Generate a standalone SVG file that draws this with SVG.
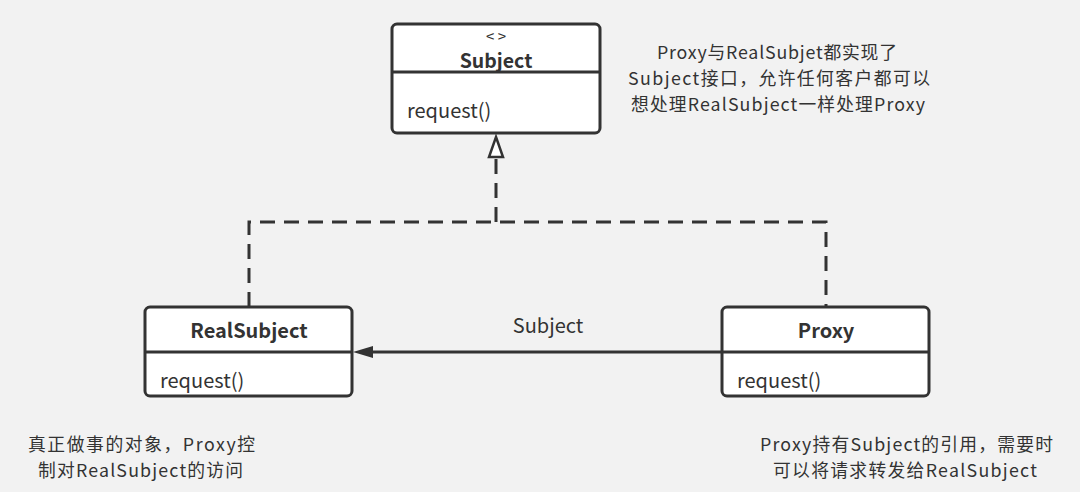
<svg xmlns="http://www.w3.org/2000/svg" width="1080" height="492" viewBox="0 0 1080 492">
<style>
.bg{fill:#f2f2f2}
.box{fill:#ffffff;stroke:#333333;stroke-width:3}
.div{stroke:#333333;stroke-width:3}
.t{font-family:"Noto Sans CJK SC","Noto Sans",sans-serif;font-size:20px;fill:#333333}
.n{font-size:17.8px}
.b{font-weight:bold;text-anchor:middle}
.c{text-anchor:middle}
.dash{fill:none;stroke:#333333;stroke-width:3;stroke-dasharray:15 9}
.solid{fill:none;stroke:#333333;stroke-width:3}
.hollow{fill:#ffffff;stroke:#333333;stroke-width:2.5}
</style>
<rect class="bg" x="0" y="0" width="1080" height="492"/>
<g id="connectors">
<path class="dash" d="M249,307 L249,222 L826,222 L826,307"/>
<path class="dash" d="M496,222 L496,158"/>
<path class="hollow" d="M496,137 L503,157 L489,157 Z"/>
<path class="solid" d="M722,352 L372,352"/>
<path d="M353,352 L373,346 L373,358 Z" fill="#333333"/>
<text class="t c" x="548" y="333">Subject</text>
</g>
<g id="subject">
<rect class="box" x="392" y="24" width="208" height="109" rx="5"/>
<line class="div" x1="392" y1="72" x2="600" y2="72"/>
<text class="t c" x="496" y="42" style="font-size:15px">&lt; &gt;</text>
<text class="t b" x="496" y="68" style="font-size:19.5px">Subject</text>
<text class="t" x="407" y="118">request()</text>
</g>
<g id="realsubject">
<rect class="box" x="145" y="307" width="207" height="89" rx="5"/>
<line class="div" x1="145" y1="352" x2="352" y2="352"/>
<text class="t b" x="249" y="338">RealSubject</text>
<text class="t" x="160" y="388">request()</text>
</g>
<g id="proxy">
<rect class="box" x="722" y="307" width="207" height="89" rx="5"/>
<line class="div" x1="722" y1="352" x2="929" y2="352"/>
<text class="t b" x="826" y="338">Proxy</text>
<text class="t" x="737" y="388">request()</text>
</g>
<g id="note-top">
<text class="t n c" x="777" y="59" textLength="240" lengthAdjust="spacing">Proxy与RealSubjet都实现了</text>
<text class="t n c" x="779" y="85" textLength="302" lengthAdjust="spacing">Subject接口，允许任何客户都可以</text>
<text class="t n c" x="778" y="111" textLength="294" lengthAdjust="spacing">想处理RealSubject一样处理Proxy</text>
</g>
<g id="note-left">
<text class="t n c" x="141.5" y="451" textLength="227" lengthAdjust="spacing">真正做事的对象，Proxy控</text>
<text class="t n c" x="140.5" y="477" textLength="205" lengthAdjust="spacing">制对RealSubject的访问</text>
</g>
<g id="note-right">
<text class="t n c" x="906.5" y="451" textLength="293" lengthAdjust="spacing">Proxy持有Subject的引用，需要时</text>
<text class="t n c" x="905" y="477" textLength="264" lengthAdjust="spacing">可以将请求转发给RealSubject</text>
</g>
</svg>
